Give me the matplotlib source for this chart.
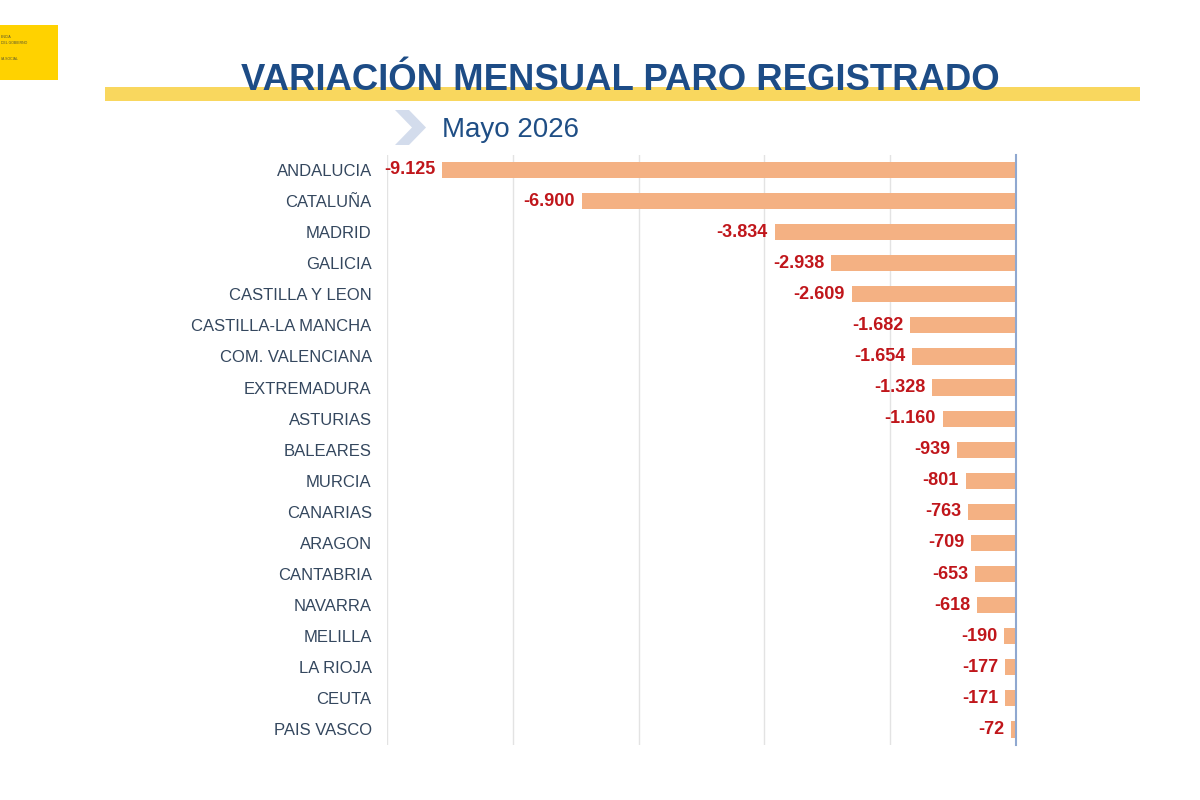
import matplotlib
matplotlib.use("Agg")
import matplotlib.pyplot as plt
from matplotlib.patches import Rectangle, Polygon

regions = ["ANDALUCIA", "CATALUÑA", "MADRID", "GALICIA", "CASTILLA Y LEON",
           "CASTILLA-LA MANCHA", "COM. VALENCIANA", "EXTREMADURA", "ASTURIAS",
           "BALEARES", "MURCIA", "CANARIAS", "ARAGON", "CANTABRIA", "NAVARRA",
           "MELILLA", "LA RIOJA", "CEUTA", "PAIS VASCO"]
values = [-9125, -6900, -3834, -2938, -2609, -1682, -1654, -1328, -1160,
          -939, -801, -763, -709, -653, -618, -190, -177, -171, -72]
value_labels = ["-9.125", "-6.900", "-3.834", "-2.938", "-2.609", "-1.682",
                "-1.654", "-1.328", "-1.160", "-939", "-801", "-763", "-709",
                "-653", "-618", "-190", "-177", "-171", "-72"]
title = "VARIACIÓN MENSUAL PARO REGISTRADO"
subtitle = "Mayo 2026"

plt.rcParams['font.family'] = ['Liberation Sans', 'DejaVu Sans']

fig = plt.figure(figsize=(12, 8), dpi=100)
fig.patch.set_facecolor("white")

# logo block
fig.patches.append(Rectangle((0.0, 1 - 80/800), 58/1200, 55/800,
                             transform=fig.transFigure, facecolor="#FFD200",
                             edgecolor="none", zorder=1))
for i, t in enumerate(["ENCIA", "DEL GOBIERNO", "", "", "IA SOCIAL"]):
    if t:
        fig.text(0.001, 1 - (37 + i * 5.5)/800, t, fontsize=2.5, color="#555533",
                 ha="left", va="center", zorder=2)

# yellow band
fig.patches.append(Rectangle((105/1200, 1 - 101/800), (1140 - 105)/1200, 14/800,
                             transform=fig.transFigure, facecolor="#F9D75E",
                             edgecolor="none", zorder=1))
fig.text(620/1200, 1 - 90/800, title, fontsize=26.3, fontweight="bold",
         color="#1D4C86", ha="center", va="baseline", zorder=3)

# chevron
cx0, cy0 = 395, 110
chev = [(cx0, cy0), (cx0 + 14, cy0), (cx0 + 31, cy0 + 17.5), (cx0 + 14, cy0 + 35),
        (cx0, cy0 + 35), (cx0 + 17, cy0 + 17.5)]
fig.patches.append(Polygon([(x/1200, 1 - y/800) for x, y in chev], closed=True,
                           transform=fig.transFigure, facecolor="#D3DCEC",
                           edgecolor="none", zorder=1))
fig.text(442/1200, 1 - 137/800, subtitle, fontsize=20, color="#1F4E85",
         ha="left", va="baseline")

ax = fig.add_axes([387/1200, 1 - 745/800, (1016 - 387)/1200, (745 - 155)/800])
y = list(range(len(regions)))
ax.barh(y, values, height=0.52, color="#F4B183", edgecolor="none", zorder=2)
ax.set_xlim(-10000, 0)
ax.set_ylim(len(regions) - 0.5, -0.48)
ax.set_xticks(range(-10000, 1, 2000))
ax.tick_params(axis="x", which="both", length=0, labelbottom=False)
ax.tick_params(axis="y", length=0, pad=11)
ax.set_yticks(y)
ax.set_yticklabels(regions, fontsize=12, color="#34475E")
ax.grid(axis="x", color="#E3E3E3", linewidth=1, zorder=0)
for s in ["top", "bottom", "left"]:
    ax.spines[s].set_visible(False)
ax.spines["right"].set_color("#8FA8D0")
ax.spines["right"].set_linewidth(1.5)
ax.set_facecolor("none")

for yi, v, lab in zip(y, values, value_labels):
    ax.annotate(lab, xy=(v, yi), xytext=(-5, 0), textcoords="offset points",
                ha="right", va="center", fontsize=13, fontweight="bold",
                color="#C0161B", zorder=3)

fig.savefig("out.png", dpi=100, facecolor="white")
